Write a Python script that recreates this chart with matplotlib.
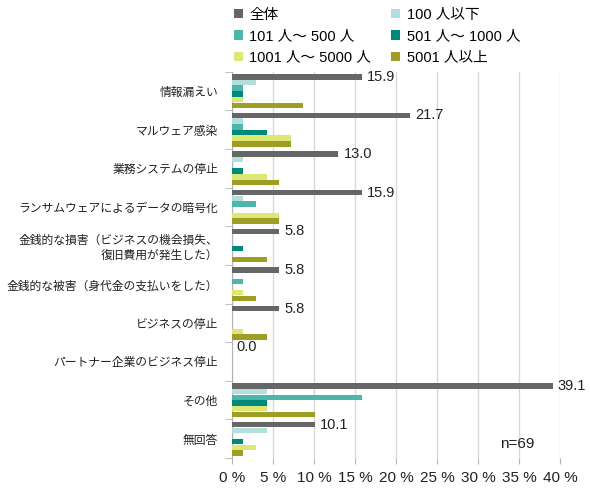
import numpy as np
import matplotlib.pyplot as plt
from matplotlib.ticker import FixedLocator

plt.rcParams['font.family'] = ['Liberation Sans', 'Noto Sans CJK JP', 'DejaVu Sans']

categories = ["情報漏えい", "マルウェア感染", "業務システムの停止", "ランサムウェアによるデータの暗号化",
              "金銭的な損害（ビジネスの機会損失、\n復旧費用が発生した）", "金銭的な被害（身代金の支払いをした）",
              "ビジネスの停止", "パートナー企業のビジネス停止", "その他", "無回答"]

series_names = ["全体", "100 人以下", "101 人～ 500 人", "501 人～ 1000 人", "1001 人～ 5000 人", "5001 人以上"]
colors = ["#666666", "#b2dfdb", "#4db6ac", "#00897b", "#dce775", "#9e9d24"]

total = [15.9, 21.7, 13.0, 15.9, 5.8, 5.8, 5.8, 0.0, 39.1, 10.1]
upto100 = [2.9, 1.4, 1.4, 1.4, 0.0, 0.0, 0.0, 0.0, 4.3, 4.3]
s101_500 = [1.4, 1.4, 0.0, 2.9, 0.0, 1.4, 0.0, 0.0, 15.9, 0.0]
s501_1000 = [1.4, 4.3, 1.4, 0.0, 1.4, 0.0, 0.0, 0.0, 4.3, 1.4]
s1001_5000 = [1.4, 7.2, 4.3, 5.8, 0.0, 1.4, 1.4, 0.0, 4.3, 2.9]
over5001 = [8.7, 7.2, 5.8, 5.8, 4.3, 2.9, 4.3, 0.0, 10.1, 1.4]

data = [total, upto100, s101_500, s501_1000, s1001_5000, over5001]

fig = plt.figure(figsize=(5.9, 4.91), dpi=100)
ax = fig.add_axes([0.393, 0.067, 0.556, 0.787])

y = np.arange(len(categories))
pitch = 0.147
bars = []
for j, (vals, name, c) in enumerate(zip(data, series_names, colors)):
    b = ax.barh(y + (j - 2.5) * pitch, vals, height=pitch * 0.95, color=c, label=name, zorder=3)
    bars.append(b)

for i, v in enumerate(total):
    ax.text(v + 0.6, y[i] - 2.5 * pitch, f"{v:.1f}", va="center", ha="left", fontsize=10.5, color="#222222")

ax.set_xlim(0, 40)
ax.set_ylim(len(categories) - 0.5, -0.5)
ax.set_xticks(np.arange(0, 41, 5))
ax.set_xticklabels([f"{t} %" for t in range(0, 41, 5)], fontsize=11, color="#222222")
ax.set_yticks(y)
ax.set_yticklabels(categories, fontsize=8.5, color="#222222", family=['Noto Sans CJK JP', 'DejaVu Sans'])
ax.yaxis.set_minor_locator(FixedLocator(np.arange(-0.5, len(categories), 1)))
ax.tick_params(axis="y", which="major", length=0, pad=10)
ax.tick_params(axis="y", which="minor", length=5, color="#b3b3b3")
ax.tick_params(axis="x", length=4, color="#b3b3b3", pad=5)
ax.grid(axis="x", color="#d9d9d9", linewidth=1, zorder=0)
for s in ["top", "right", "bottom"]:
    ax.spines[s].set_visible(False)
ax.spines["left"].set_color("#b3b3b3")

ax.text(32.7, 9.13, "n=69", fontsize=11, color="#222222", ha="left", va="center")

# legend is filled column by column, so reorder to read row by row
order = [0, 2, 4, 1, 3, 5]
fig.legend([bars[k] for k in order], [series_names[k] for k in order],
           loc="upper left", bbox_to_anchor=(0.379, 1.005), ncol=2, frameon=False, fontsize=10.5,
           handlelength=0.6, handleheight=0.6, handletextpad=0.45, columnspacing=1.4,
           labelspacing=0.5, borderaxespad=0.3)

fig.savefig("out.png", dpi=100)
